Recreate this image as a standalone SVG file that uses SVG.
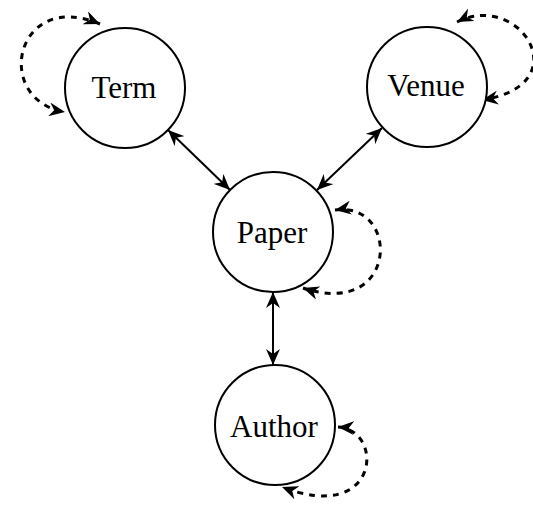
<svg xmlns="http://www.w3.org/2000/svg" width="533" height="513" viewBox="0 0 533 513">
<style>
.node circle{fill:#fff;stroke:#000;stroke-width:2}
.node text{font-family:"Liberation Serif","Times New Roman",serif;font-size:31px;fill:#000;text-anchor:middle}
.edge{fill:none;stroke:#000;stroke-width:2}
.loop{fill:none;stroke:#000;stroke-width:3;stroke-dasharray:6 6}
</style>
<defs>
<marker id="ah" markerUnits="userSpaceOnUse" markerWidth="18" markerHeight="14" refX="16" refY="7" orient="auto-start-reverse" viewBox="0 0 18 14">
<path d="M0,0 L16,7 L0,14 L5,7 z" fill="#000"/>
</marker>
</defs>
<rect width="533" height="513" fill="#fff"/>
<g id="connectors">
<line class="edge" x1="168" y1="130" x2="230" y2="190" marker-start="url(#ah)" marker-end="url(#ah)"/>
<line class="edge" x1="382" y1="128" x2="317" y2="190" marker-start="url(#ah)" marker-end="url(#ah)"/>
<line class="edge" x1="273" y1="292" x2="273" y2="365" marker-start="url(#ah)" marker-end="url(#ah)"/>
<path class="loop" d="M100,24 C15,-12 -8,100 65,112" marker-start="url(#ah)" marker-end="url(#ah)"/>
<path class="loop" d="M457,22 C520,-10 580,85 482,100" marker-start="url(#ah)" marker-end="url(#ah)"/>
<path class="loop" d="M335,210 C400,200 400,320 303,288" marker-start="url(#ah)" marker-end="url(#ah)"/>
<path class="loop" d="M338,427 C385,430 380,525 282,487" marker-start="url(#ah)" marker-end="url(#ah)"/>
</g>
<g id="term" class="node"><circle cx="125" cy="88" r="60"/><text x="124" y="98">Term</text></g>
<g id="venue" class="node"><circle cx="427" cy="87" r="60"/><text x="426" y="96">Venue</text></g>
<g id="paper" class="node"><circle cx="273" cy="232" r="60"/><text x="272" y="243">Paper</text></g>
<g id="author" class="node"><circle cx="275" cy="425" r="60"/><text x="274" y="437">Author</text></g>
</svg>
